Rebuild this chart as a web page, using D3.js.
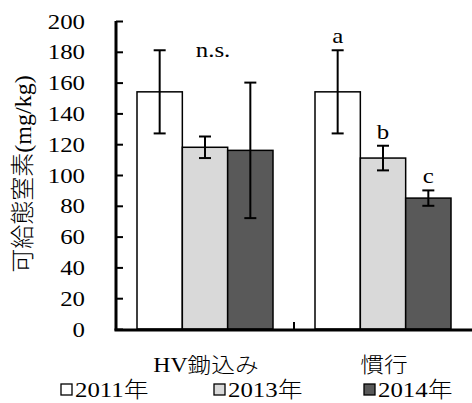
<!DOCTYPE html>
<html>
<head>
<meta charset="utf-8">
<script src="https://cdn.jsdelivr.net/npm/d3@7"></script>
<style>
  body { margin: 0; background: #fff; }
</style>
</head>
<body>
<svg id="chart" width="472" height="403"></svg>
<script>
// Categories, years and measured values (mean ± error) of available nitrogen
const categories = ["HV鋤込み", "慣行"];
const years = ["2011年", "2013年", "2014年"];
const means = [
  [154, 118, 116],
  [154, 111, 85]
];
const errors = [
  [27, 7, 44],
  [27, 8, 5]
];
const sigLabels = [
  ["", "n.s.", ""],
  ["a", "b", "c"]
];
const yTicks = [0, 20, 40, 60, 80, 100, 120, 140, 160, 180, 200];
const colors = ["#ffffff", "#d9d9d9", "#595959"];

const LATIN = "'Liberation Serif', 'Times New Roman', serif";
const CJK = "'Noto Sans CJK JP', sans-serif";
const STRETCH = 1.13; // glyphs are drawn slightly wide

// Writes a string as runs of tspans: Latin runs in the serif face, CJK runs in the gothic face
function setText(textSel, str) {
  const runs = str.match(/[\x00-\x7F]+|[^\x00-\x7F]+/g) || [];
  runs.forEach(r => {
    textSel.append("tspan")
      .style("font-family", /^[\x00-\x7F]/.test(r) ? LATIN : CJK)
      .text(r);
  });
  return textSel;
}

const svg = d3.select("#chart");
const plotLeft = 116, plotRight = 472, plotTop = 21, plotBottom = 329;

const y = d3.scaleLinear().domain([0, 200]).range([plotBottom, plotTop]);
const x0 = d3.scaleBand().domain(categories).range([plotLeft, plotRight]);
const x1 = d3.scaleBand().domain(years).range([21, 157]);

// y axis: ticks pointing into the plot, labels on the left
const yAxis = d3.axisLeft(y).tickValues(yTicks).tickSize(-7).tickPadding(31);
const gy = svg.append("g").attr("transform", `translate(${plotLeft},0)`).call(yAxis);
gy.attr("font-family", null).attr("font-size", 22);
gy.select(".domain").remove();
gy.selectAll(".tick line").attr("stroke", "#000").attr("stroke-width", 2);
gy.selectAll(".tick text")
  .style("font-family", LATIN)
  .attr("fill", "#000")
  .attr("textLength", d => String(d).length * 11 * STRETCH)
  .attr("lengthAdjust", "spacingAndGlyphs");
svg.append("line").attr("x1", plotLeft).attr("x2", plotLeft).attr("y1", plotTop).attr("y2", plotBottom + 1.5)
  .attr("stroke", "#000").attr("stroke-width", 3);

// bars
const groups = svg.selectAll("g.grp").data(categories).join("g")
  .attr("class", "grp")
  .attr("transform", d => `translate(${x0(d)},0)`);

groups.each(function (cat, ci) {
  const g = d3.select(this);
  years.forEach((yr, yi) => {
    const v = means[ci][yi];
    g.append("rect")
      .attr("x", x1(yr)).attr("width", x1.bandwidth())
      .attr("y", y(v)).attr("height", y(0) - y(v))
      .attr("fill", colors[yi]).attr("stroke", "#000").attr("stroke-width", 1.5);
  });
  years.forEach((yr, yi) => {
    const v = means[ci][yi], e = errors[ci][yi];
    const cx = x1(yr) + x1.bandwidth() / 2;
    const eg = g.append("g").attr("stroke", "#000").attr("stroke-width", 2);
    eg.append("line").attr("x1", cx).attr("x2", cx).attr("y1", y(v + e)).attr("y2", y(v - e));
    eg.append("line").attr("x1", cx - 6).attr("x2", cx + 6).attr("y1", y(v + e)).attr("y2", y(v + e));
    eg.append("line").attr("x1", cx - 6).attr("x2", cx + 6).attr("y1", y(v - e)).attr("y2", y(v - e));
    const lab = sigLabels[ci][yi];
    if (!lab) return;
    let lx = cx, ly = y(v + e) - 7;
    if (lab === "n.s.") {
      // group-wide label, set just below the tallest error bar of the group
      const topVal = d3.max(means[ci].map((m, k) => m + errors[ci][k]));
      lx = cx + 8; ly = y(topVal) + 7;
    }
    g.append("text")
      .attr("transform", `translate(${lx},${ly}) scale(${STRETCH},1)`)
      .attr("text-anchor", "middle")
      .style("font-family", LATIN).attr("font-size", 22).attr("fill", "#000")
      .text(lab);
  });
});

// x axis with a separator tick between categories
svg.append("line").attr("x1", plotLeft - 1.5).attr("x2", plotRight).attr("y1", plotBottom + 1).attr("y2", plotBottom + 1)
  .attr("stroke", "#000").attr("stroke-width", 3);
svg.append("line").attr("x1", x0(categories[1])).attr("x2", x0(categories[1]))
  .attr("y1", plotBottom - 7).attr("y2", plotBottom)
  .attr("stroke", "#000").attr("stroke-width", 2);

// category labels
categories.forEach(c => {
  const t = svg.append("text")
    .attr("transform", `translate(${x0(c) + x0.bandwidth() / 2 + 1},372) scale(${STRETCH},1)`)
    .attr("text-anchor", "middle")
    .attr("font-size", 21).attr("font-weight", 300).attr("fill", "#000");
  setText(t, c);
});

// y title
setText(svg.append("text")
  .attr("transform", "translate(31,174) rotate(-90)")
  .attr("text-anchor", "middle")
  .attr("font-size", 24).attr("font-weight", 300).attr("fill", "#000"),
  "可給態窒素(mg/kg)");

// legend
const legX = [60, 213, 363];
years.forEach((yr, i) => {
  const lg = svg.append("g").attr("transform", `translate(${legX[i]},0)`);
  lg.append("rect").attr("x", 1).attr("y", 384).attr("width", 11).attr("height", 11)
    .attr("fill", colors[i]).attr("stroke", "#000").attr("stroke-width", 1.3);
  setText(lg.append("text")
    .attr("transform", `translate(15,397) scale(${STRETCH},1)`)
    .attr("font-size", 22).attr("font-weight", 300).attr("fill", "#000"), yr);
});
</script>
</body>
</html>
